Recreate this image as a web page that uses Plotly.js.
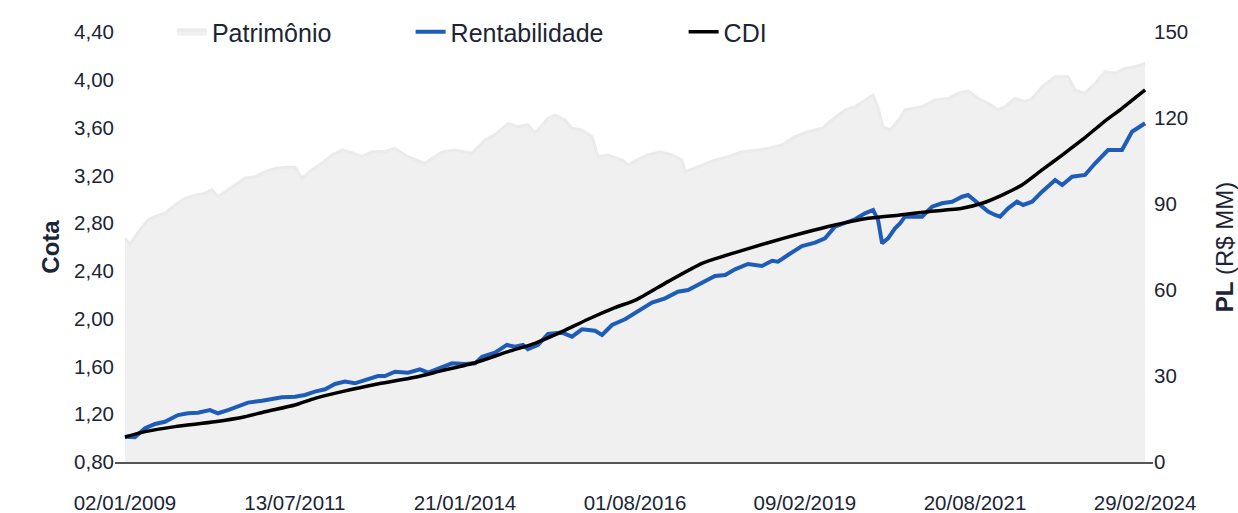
<!DOCTYPE html>
<html>
<head>
<meta charset="utf-8">
<script src="https://cdn.plot.ly/plotly-3.0.1.min.js"></script>
<style>
  html, body { margin: 0; padding: 0; background: #ffffff; }
  #chart { width: 1238px; height: 513px; }
</style>
</head>
<body>
<div id="chart"></div>
<script>
// ---- Data ----
const patrimonioDates = [
  "2009-01-02","2009-01-29","2009-02-25","2009-05-07","2009-06-14","2009-08-07","2009-09-30","2009-11-24",
  "2010-01-17","2010-03-12","2010-04-19","2010-05-22","2010-07-15","2010-08-22","2010-10-15","2010-12-09",
  "2011-02-01","2011-03-27","2011-05-20","2011-07-14","2011-08-21","2011-10-14","2011-12-07",
  "2012-01-31","2012-03-25","2012-05-18","2012-07-11","2012-09-04","2012-11-10",
  "2013-01-06","2013-03-18","2013-06-18","2013-09-19","2013-11-28",
  "2014-02-28","2014-05-10","2014-07-03","2014-09-12","2014-11-05","2014-12-29",
  "2015-02-05","2015-04-17","2015-05-25","2015-07-18","2015-08-25","2015-10-18","2015-12-12",
  "2016-01-13","2016-03-07","2016-05-22","2016-06-24","2016-08-28","2016-10-11","2016-12-15",
  "2017-02-18","2017-04-13","2017-04-29","2017-07-09","2017-10-09","2017-12-19",
  "2018-03-05","2018-05-31","2018-07-24","2018-10-08","2018-12-17",
  "2019-02-26","2019-05-13","2019-07-06","2019-09-15","2019-11-08",
  "2020-01-01","2020-02-14","2020-03-12","2020-04-08","2020-05-16","2020-07-09","2020-08-05","2020-11-06",
  "2021-01-15","2021-03-27","2021-05-20","2021-07-13","2021-09-06","2021-10-30","2021-12-23",
  "2022-01-30","2022-03-25","2022-05-19","2022-06-26","2022-08-19","2022-10-29",
  "2023-01-07","2023-02-14","2023-04-09","2023-06-03","2023-07-27","2023-09-19","2023-11-12",
  "2024-01-06","2024-02-29"
];
const patrimonioValues = [
  78.1,76.0,78.6,84.4,85.6,86.8,89.6,92.0,
  93.1,93.7,94.9,92.5,94.9,96.6,99.0,99.5,
  101.3,102.4,102.8,102.8,99.0,101.9,104.2,
  107.1,108.8,107.9,106.5,108.2,108.2,
  109.4,106.5,104.2,108.2,108.8,
  107.7,112.3,114.1,118.1,117.0,117.6,
  114.7,119.9,121.0,119.3,116.4,115.8,113.5,
  106.5,107.1,105.3,103.6,105.9,107.1,108.2,
  107.1,105.3,101.3,103.0,105.3,106.5,
  108.2,108.8,109.4,110.6,113.5,
  115.2,116.4,119.3,122.8,123.9,
  126.3,128.0,123.4,117.0,115.8,119.9,122.8,123.9,
  126.3,126.8,128.6,129.5,126.8,125.1,122.8,
  123.9,126.8,125.7,126.8,130.9,134.4,
  134.4,129.8,128.6,132.1,136.1,135.6,137.3,
  137.9,139.1
];

const rentabilidadeDates = [
  "2009-01-02","2009-02-25","2009-04-21","2009-06-14","2009-08-07","2009-10-17","2009-12-10",
  "2010-02-02","2010-04-08","2010-05-22","2010-07-15","2010-09-07","2010-11-01",
  "2011-01-16","2011-03-11","2011-05-04","2011-07-14","2011-09-06","2011-10-30","2011-12-24",
  "2012-02-16","2012-04-10","2012-06-03","2012-07-28","2012-10-06","2012-11-13",
  "2013-01-06","2013-03-18","2013-05-22","2013-07-05","2013-09-19","2013-11-12",
  "2014-01-21","2014-03-17","2014-04-24","2014-07-03","2014-09-06","2014-10-20","2014-12-02","2014-12-29",
  "2015-02-22","2015-04-17","2015-07-02","2015-08-25","2015-10-18","2015-12-28",
  "2016-02-04","2016-03-29","2016-06-08","2016-08-01","2016-11-01",
  "2017-01-11","2017-03-22","2017-05-16","2017-07-31","2017-10-09","2017-12-03",
  "2018-01-26","2018-04-06","2018-06-21","2018-08-15","2018-09-16","2018-11-09",
  "2019-01-24","2019-04-05","2019-05-29","2019-07-22","2019-09-15","2019-11-08",
  "2020-01-01","2020-02-14","2020-03-12","2020-04-03","2020-05-05","2020-06-12","2020-07-09","2020-08-05","2020-09-29","2020-11-06","2020-12-30",
  "2021-02-22","2021-04-18","2021-06-11","2021-07-13","2021-09-06","2021-10-30","2021-12-07",
  "2022-01-03","2022-02-16","2022-04-05","2022-05-08","2022-06-26","2022-08-19","2022-10-29","2022-12-06",
  "2023-01-29","2023-04-09","2023-06-03","2023-08-12","2023-10-27","2023-12-20",
  "2024-01-22","2024-02-29"
];
const rentabilidadeValues = [
  1.012,1.007,1.082,1.118,1.137,1.193,1.208,
  1.213,1.235,1.208,1.235,1.263,1.297,
  1.313,1.325,1.342,1.347,1.361,1.389,1.409,
  1.453,1.473,1.459,1.487,1.520,1.520,
  1.556,1.548,1.576,1.548,1.598,1.626,
  1.620,1.626,1.682,1.715,1.780,1.765,1.780,1.744,
  1.780,1.872,1.883,1.849,1.911,1.899,
  1.863,1.947,1.995,2.045,2.134,
  2.170,2.226,2.240,2.301,2.357,2.366,
  2.413,2.458,2.441,2.485,2.477,2.533,
  2.608,2.636,2.673,2.770,2.798,2.832,
  2.882,2.910,2.826,2.631,2.673,2.757,2.798,2.854,2.854,2.854,2.938,
  2.966,2.979,3.021,3.035,2.966,2.896,2.868,
  2.854,2.924,2.979,2.952,2.979,3.063,3.161,3.119,
  3.189,3.203,3.301,3.412,3.412,3.565,
  3.594,3.636
];

const cdiDates = [
  "2009-01-02","2009-04-21","2009-09-30","2010-05-05","2010-10-15","2011-02-01","2011-07-14","2011-10-30",
  "2012-03-25","2012-09-20","2013-04-25","2013-09-19","2014-03-17","2014-09-12","2015-02-05","2015-07-02",
  "2015-11-20","2016-04-14","2016-08-10","2017-01-27","2017-07-31","2018-01-26","2018-07-24","2019-01-24",
  "2019-07-22","2020-01-18","2020-07-09","2020-12-08","2021-06-11","2021-09-27","2022-01-14","2022-05-02",
  "2022-08-19","2022-12-06","2023-03-24","2023-07-11","2023-10-27","2024-02-29"
];
const cdiValues = [
  1.009,1.054,1.096,1.137,1.179,1.221,1.277,1.333,
  1.389,1.449,1.509,1.565,1.631,1.724,1.794,1.891,
  1.995,2.092,2.160,2.310,2.463,2.553,2.636,2.715,
  2.784,2.840,2.868,2.896,2.924,2.966,3.035,3.119,
  3.245,3.370,3.496,3.636,3.761,3.915
];

const xTickLabels = ["02/01/2009","13/07/2011","21/01/2014","01/08/2016","09/02/2019","20/08/2021","29/02/2024"];
const cotaTicks = [0.8,1.2,1.6,2.0,2.4,2.8,3.2,3.6,4.0,4.4];
const plTicks = [0,30,60,90,120,150];

// ---- Build chart ----
const toIso = s => { const p = s.split('/'); return p[2] + '-' + p[1] + '-' + p[0]; };
const xTickVals = xTickLabels.map(toIso);

const textColor = '#1b2536';
const fontFamily = '"Liberation Sans", Arial, sans-serif';

const traces = [
  {
    x: patrimonioDates, y: patrimonioValues, name: 'Patrimônio',
    type: 'scatter', mode: 'lines', fill: 'tozeroy',
    fillcolor: '#f0f0f0', line: { color: '#ebebeb', width: 3 },
    yaxis: 'y', legend: 'legend', hoverinfo: 'skip'
  },
  {
    x: rentabilidadeDates, y: rentabilidadeValues, name: 'Rentabilidade',
    type: 'scatter', mode: 'lines',
    line: { color: '#1d5cb9', width: 4 },
    yaxis: 'y2', legend: 'legend2', hoverinfo: 'skip'
  },
  {
    x: cdiDates, y: cdiValues, name: 'CDI',
    type: 'scatter', mode: 'lines',
    line: { color: '#000000', width: 3.5, shape: 'spline', smoothing: 0.6 },
    yaxis: 'y2', legend: 'legend3', hoverinfo: 'skip'
  }
];

const legendBase = {
  orientation: 'h', y: 1, yanchor: 'middle', xanchor: 'left',
  bgcolor: 'rgba(0,0,0,0)', borderwidth: 0,
  font: { family: fontFamily, size: 25, color: textColor }
};

const layout = {
  width: 1238, height: 513,
  margin: { l: 115, r: 85, t: 32, b: 51, autoexpand: false },
  paper_bgcolor: '#ffffff', plot_bgcolor: '#ffffff',
  separators: ',.',
  font: { family: fontFamily, size: 20, color: textColor },
  showlegend: true,
  legend:  Object.assign({}, legendBase, { x: 0.0548 }),
  legend2: Object.assign({}, legendBase, { x: 0.2848 }),
  legend3: Object.assign({}, legendBase, { x: 0.5478 }),
  xaxis: {
    type: 'date',
    range: ['2008-11-09', '2024-04-12'],
    tickmode: 'array', tickvals: xTickVals, ticktext: xTickLabels,
    showgrid: false, zeroline: false,
    showline: true, linecolor: '#555555', linewidth: 2,
    ticks: '', ticklabelstandoff: 21,
    tickfont: { family: fontFamily, size: 20.5, color: textColor }
  },
  yaxis: {
    side: 'right',
    range: [0, 150],
    tickmode: 'array', tickvals: plTicks,
    showgrid: false, zeroline: false, showline: false, ticks: '',
    tickfont: { family: fontFamily, size: 20.5, color: textColor },
    title: { text: '<b>PL</b> (R$ MM)', font: { family: fontFamily, size: 24, color: textColor }, standoff: 28 }
  },
  yaxis2: {
    side: 'left', overlaying: 'y',
    range: [0.8, 4.4],
    tickmode: 'array', tickvals: cotaTicks, tickformat: '.2f',
    showgrid: false, zeroline: false, showline: false, ticks: '',
    tickfont: { family: fontFamily, size: 20.5, color: textColor },
    title: { text: '<b>Cota</b>', font: { family: fontFamily, size: 24, color: textColor }, standoff: 7 }
  }
};

Plotly.newPlot('chart', traces, layout, { displayModeBar: false, staticPlot: true });
</script>
</body>
</html>
